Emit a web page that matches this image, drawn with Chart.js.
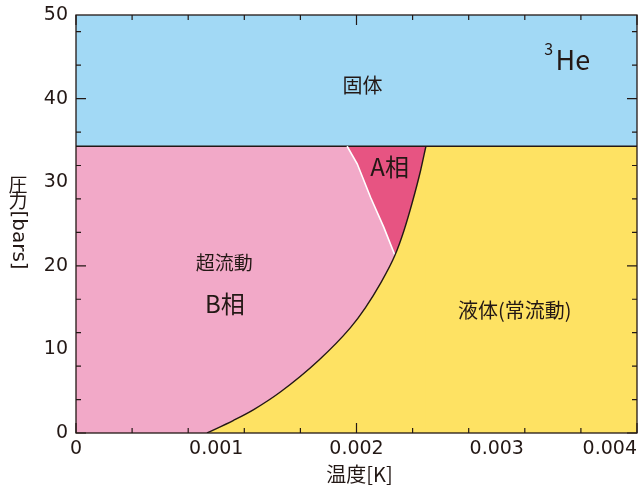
<!DOCTYPE html>
<html lang="ja">
<head>
<meta charset="utf-8">
<title>3He 相図</title>
<script src="https://cdn.jsdelivr.net/npm/chart.js@4.4.1/dist/chart.umd.min.js"></script>
<style>
  html, body { margin: 0; padding: 0; background: #fff; }
  #wrap { position: relative; width: 639px; height: 486px; }
</style>
</head>
<body>
<div id="wrap"><canvas id="chart"></canvas></div>
<script>
// 超流動転移温度 Tc(P)  [K], [bar]
const tcTemp = [0.000934, 0.001124, 0.001267, 0.001457, 0.001731, 0.001957,
  0.002064, 0.002171, 0.002274, 0.002338, 0.002398, 0.002457, 0.002495];
const tcPressure = [0, 1.52, 2.8, 4.9, 8.7, 12.6, 15.0, 17.9, 21.26, 24.2, 27.6, 31.4, 34.3];

// A-B 相境界
const abTemp = [0.001933, 0.002005, 0.0021, 0.002195, 0.002274];
const abPressure = [34.3, 32.2, 28.2, 24.6, 21.26];

// 融解圧（固体との境界）
const meltingPressure = 34.3;

const xMin = 0, xMax = 0.004;
const yMin = 0, yMax = 50;
const xTickValues = [0, 0.001, 0.002, 0.003, 0.004];
const xTickLabels = ["0", "0.001", "0.002", "0.003", "0.004"];
const yTickValues = [0, 10, 20, 30, 40, 50];
const yTickLabels = ["0", "10", "20", "30", "40", "50"];

const INK = "#231815";
const JP = '"Noto Sans CJK JP", "Noto Sans", sans-serif';
const NUM = '"DejaVu Sans", sans-serif';

const pts = (xs, ys) => xs.map((x, i) => ({ x, y: ys[i] }));

const tcLine = pts(tcTemp, tcPressure);
const abLine = pts(abTemp, abPressure);
const melting = [{ x: xMin, y: meltingPressure }, { x: xMax, y: meltingPressure }];
// B 相の上側境界: 融解線 → AB 境界
const bUpper = [{ x: xMin, y: meltingPressure }].concat(abLine);

const regionLabels = [
  { text: "固体", x: 0.002043, y: 41.6, size: 20 },
  { text: "A相", x: 0.002236, y: 31.8, size: 24 },
  { text: "超流動", x: 0.001057, y: 20.4, size: 19 },
  { text: "B相", x: 0.001061, y: 15.4, size: 24 },
  { text: "液体(常流動)", x: 0.003129, y: 14.7, size: 20 }
];

const isMultiple = (v, step) => Math.abs(v / step - Math.round(v / step)) < 1e-6;

const decor = {
  id: "decor",
  afterDraw(chart) {
    const { ctx, chartArea: a, scales: { x, y } } = chart;
    ctx.save();

    // 枠
    ctx.strokeStyle = INK;
    ctx.lineWidth = 1.3;
    ctx.strokeRect(a.left, a.top, a.right - a.left, a.bottom - a.top);

    // 目盛り（内向き）
    ctx.lineWidth = 1.2;
    ctx.beginPath();
    x.ticks.forEach((t) => {
      const px = x.getPixelForValue(t.value);
      const len = isMultiple(t.value, 0.001) ? 10 : 5;
      ctx.moveTo(px, a.bottom); ctx.lineTo(px, a.bottom - len);
      ctx.moveTo(px, a.top); ctx.lineTo(px, a.top + len);
    });
    y.ticks.forEach((t) => {
      const py = y.getPixelForValue(t.value);
      const len = isMultiple(t.value, 10) ? 10 : 5;
      ctx.moveTo(a.left, py); ctx.lineTo(a.left + len, py);
      ctx.moveTo(a.right, py); ctx.lineTo(a.right - len, py);
    });
    ctx.stroke();

    ctx.fillStyle = INK;
    ctx.font = `19px ${NUM}`;
    ctx.textBaseline = "middle";

    // y 目盛りラベル
    ctx.textAlign = "right";
    yTickValues.forEach((v, i) => {
      ctx.fillText(yTickLabels[i], a.left - 8, y.getPixelForValue(v));
    });

    // x 目盛りラベル（右端は枠内に収める）
    ctx.textAlign = "left";
    xTickValues.forEach((v, i) => {
      const px = x.getPixelForValue(v);
      const w = ctx.measureText(xTickLabels[i]).width;
      const left = Math.min(px - w / 2, chart.width - w - 2);
      ctx.fillText(xTickLabels[i], left, a.bottom + 16);
    });

    // 軸タイトル
    ctx.textAlign = "center";
    ctx.font = `20px ${JP}`;
    ctx.fillText("温度[K]", (a.left + a.right) / 2 + 3, 474);

    // 縦書き: 圧力[bars]
    ctx.font = `19px ${JP}`;
    ctx.fillText("圧", 18, 185);
    ctx.fillText("力", 18, 201);
    ctx.save();
    ctx.translate(18, 240);
    ctx.rotate(Math.PI / 2);
    ctx.font = `20px ${NUM}`;
    ctx.fillText("[bars]", 0, 0);
    ctx.restore();

    // 領域ラベル
    ctx.textAlign = "center";
    regionLabels.forEach((l) => {
      ctx.font = `${l.size}px ${JP}`;
      ctx.fillText(l.text, x.getPixelForValue(l.x), y.getPixelForValue(l.y));
    });

    // 3He
    ctx.font = `27px ${JP}`;
    ctx.fillText("He", x.getPixelForValue(0.003543), y.getPixelForValue(44.6));
    ctx.font = `16px ${JP}`;
    ctx.fillText("3", x.getPixelForValue(0.003370), y.getPixelForValue(45.9));

    ctx.restore();
  }
};

const base = { pointRadius: 0, pointHoverRadius: 0, tension: 0, borderWidth: 0 };
const smooth = { cubicInterpolationMode: "monotone" };

new Chart(document.getElementById("chart"), {
  type: "line",
  data: {
    datasets: [
      // 下から順に重ねる
      { ...base, label: "液体(下地)", data: melting, fill: "origin", backgroundColor: "#fee263", order: 9 },
      { ...base, ...smooth, label: "A相", data: tcLine, fill: { value: meltingPressure }, backgroundColor: "#e75482", order: 8 },
      { ...base, label: "B相", data: bUpper, fill: "origin", backgroundColor: "#f2a9c8", order: 7 },
      { ...base, ...smooth, label: "液体", data: tcLine, fill: "origin", backgroundColor: "#fee263", order: 6 },
      { ...base, label: "固体", data: melting, fill: "end", backgroundColor: "#a2d9f5",
        borderColor: INK, borderWidth: 1.3, order: 3 },
      { ...base, label: "AB", data: abLine, fill: false, borderColor: "#ffffff", borderWidth: 1.6, order: 2 },
      { ...base, ...smooth, label: "Tc", data: tcLine, fill: false, borderColor: INK, borderWidth: 1.4, order: 1 }
    ]
  },
  options: {
    responsive: true,
    maintainAspectRatio: false,
    animation: false,
    layout: { padding: { left: 76, right: 2, top: 15, bottom: 53 } },
    plugins: {
      legend: { display: false },
      tooltip: { enabled: false }
    },
    scales: {
      x: { type: "linear", display: false, min: xMin, max: xMax, ticks: { stepSize: 0.0002 } },
      y: { type: "linear", display: false, min: yMin, max: yMax, ticks: { stepSize: 2 } }
    }
  },
  plugins: [decor]
});
</script>
</body>
</html>
